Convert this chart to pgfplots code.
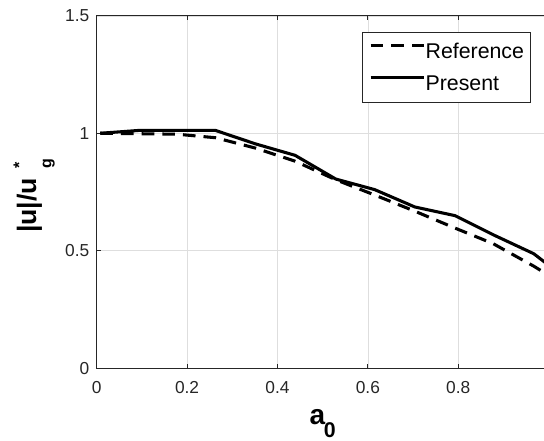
\documentclass[border=0pt]{standalone}
\usepackage{fontspec}
\setmainfont{Liberation Sans}
\usepackage{pgfplots}
\pgfplotsset{compat=1.18}
\definecolor{axgray}{rgb}{0.15,0.15,0.15}
\definecolor{gridgray}{rgb}{0.87,0.87,0.87}

\begin{document}
\begin{tikzpicture}
% the reference is cut off just before x = 1
\path[use as bounding box] (-72.5pt,-54.7pt) rectangle (335.5pt,276.05pt);
\clip (-72.5pt,-54.7pt) rectangle (335.5pt,276.05pt);
\begin{axis}[
  scale only axis, width=339pt, height=264.15pt,
  xmin=0, xmax=1, ymin=0, ymax=1.5,
  xtick={0,0.2,0.4,0.6,0.8}, ytick={0,0.5,1,1.5},
  grid=major, grid style={gridgray, line width=0.5pt},
  axis line style={axgray, line width=0.6pt},
  major tick style={axgray, line width=0.6pt}, major tick length=3.2pt,
  /pgf/number format/assume math mode=true,
  tick label style={font=\fontsize{13}{15}\selectfont, text=axgray},
  xticklabel style={yshift=-6.8pt},
  yticklabel style={xshift=-2pt},
  xlabel={\fontsize{21}{25}\selectfont\bfseries a\kern-1pt\raisebox{-9.75pt}{\fontsize{16}{19}\selectfont 0}},
  ylabel={\fontsize{20}{24}\selectfont\bfseries |u|/u\hspace{7pt}\rlap{\raisebox{8.5pt}{\fontsize{12}{14}\selectfont *}}\raisebox{-11.5pt}{\fontsize{12}{14}\selectfont g}},
  every axis x label/.style={at={(axis description cs:0.5,0)}, anchor=base, yshift=-42.7pt},
  every axis y label/.style={at={(axis description cs:-0.1342,0.489)}, anchor=base, rotate=90},
  legend cell align=left,
  legend image code/.code={\draw[#1] (0pt,0.45em) -- (40pt,0.45em);},
  legend style={at={(axis cs:0.961,1.430)}, anchor=north east,
    draw=axgray, line width=0.5pt, fill=white,
    font=\fontsize{16}{19}\selectfont,
    nodes={inner sep=0pt}, row sep=11.5pt, inner xsep=5pt, inner ysep=7.5pt,
    /tikz/every even column/.append style={column sep=4.5pt}},
]
\addplot[black, line width=2.3pt, dash pattern=on 9.5pt off 6pt] coordinates {
  (0.008,1.000) (0.093,0.998) (0.178,0.996) (0.263,0.981) (0.351,0.937)
  (0.439,0.881) (0.529,0.802) (0.615,0.737) (0.704,0.668) (0.793,0.596)
  (0.877,0.530) (0.967,0.434) (1.000,0.395)};
\addlegendentry{Reference}
\addplot[black, line width=2.3pt] coordinates {
  (0.008,1.000) (0.093,1.012) (0.263,1.012) (0.351,0.955) (0.439,0.906)
  (0.529,0.805) (0.615,0.760) (0.704,0.686) (0.793,0.649) (0.877,0.568)
  (0.967,0.487) (1.000,0.438)};
\addlegendentry{Present}
\end{axis}
\end{tikzpicture}
\end{document}
